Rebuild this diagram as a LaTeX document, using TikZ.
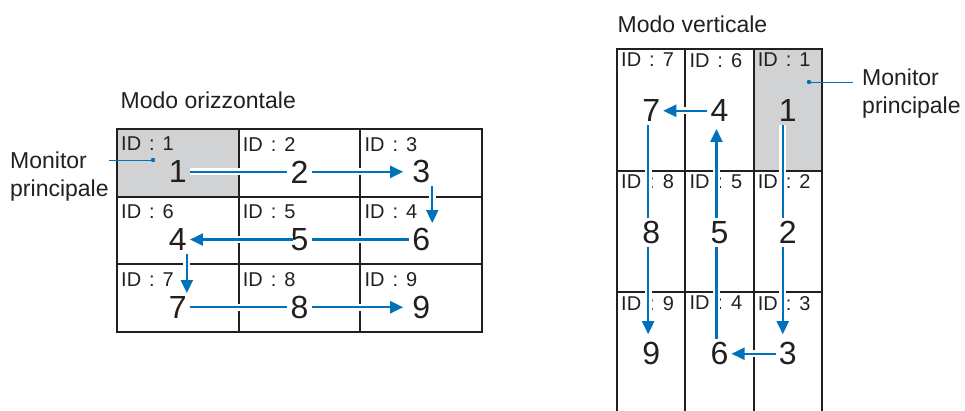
\documentclass[tikz,border=0pt]{standalone}
\usepackage{fontspec}
\setmainfont{Liberation Sans}
\usetikzlibrary{positioning,arrows.meta}
\definecolor{blu}{RGB}{0,114,188}
\definecolor{grigio}{RGB}{209,210,212}
\definecolor{nero}{RGB}{35,31,32}
\newcommand{\idsp}{\hspace{0.4em}}

\begin{document}
\begin{tikzpicture}[
x=1pt, y=-1pt,
font=\fontsize{23}{28}\selectfont,
text=nero,
schermo/.style={
    draw=nero,
    line width=2pt,
    inner sep=0pt,
    outer sep=0pt
},
schermoO/.style={
    schermo,
    minimum width=121.7pt,
    minimum height=67.7pt,
    label={[idtxt, yshift=-4pt]north west:{ID\idsp:\idsp#1}}
},
schermoV/.style={
    schermo,
    minimum width=68.3pt,
    minimum height=121.5pt,
    label={[idtxt]north west:{ID\idsp:\idsp#1}}
},
idtxt/.style={
    anchor=north west,
    inner sep=4pt,
    font=\fontsize{20}{24}\selectfont
},
cifra/.style={
    inner sep=3pt,
    font=\fontsize{32}{36}\selectfont
},
freccia/.style={
    -{Triangle[length=13pt,width=12pt]},
    draw=blu,
    line width=2.2pt,
    preaction={draw=white, line width=7pt, -}
},
guida/.style={
    draw=blu,
    line width=1pt
},
titolo/.style={
    anchor=base west,
    inner sep=0pt
},
didascalia/.style={
    anchor=north west,
    align=left,
    inner sep=0pt
}
]
\clip (0,0) rectangle (965,410);

% Modo orizzontale
\node[titolo] (titoloO) at (120.5,108) {Modo orizzontale};

\node[schermoO=1, fill=grigio, anchor=north west] (o11) at (117,129) {};
\node[schermoO=2, right=0pt of o11] (o12) {};
\node[schermoO=3, right=0pt of o12] (o13) {};
\node[schermoO=6, below=0pt of o11] (o21) {};
\node[schermoO=5, right=0pt of o21] (o22) {};
\node[schermoO=4, right=0pt of o22] (o23) {};
\node[schermoO=7, below=0pt of o21] (o31) {};
\node[schermoO=8, right=0pt of o31] (o32) {};
\node[schermoO=9, right=0pt of o32] (o33) {};

\node[cifra] (numO1) at ([yshift=-9pt]o11.center) {1};
\node[cifra] (numO2) at ([yshift=-9pt]o12.center) {2};
\node[cifra] (numO3) at ([yshift=-9pt]o13.center) {3};
\node[cifra] (numO4) at ([yshift=-9pt]o21.center) {4};
\node[cifra] (numO5) at ([yshift=-9pt]o22.center) {5};
\node[cifra] (numO6) at ([yshift=-9pt]o23.center) {6};
\node[cifra] (numO7) at ([yshift=-9pt]o31.center) {7};
\node[cifra] (numO8) at ([yshift=-9pt]o32.center) {8};
\node[cifra] (numO9) at ([yshift=-9pt]o33.center) {9};

\draw[freccia, shorten >=6pt] (numO1) -- (numO2) -- (numO3);
\draw[freccia, shorten >=2pt]
([xshift=11pt]numO3.south) -- ([xshift=11pt]numO6.north);
\draw[freccia, shorten <=-6pt] (numO6) -- (numO5) -- (numO4);
\draw[freccia]
([xshift=9pt]numO4.south) -- ([xshift=9pt]numO7.north);
\draw[freccia, shorten >=6pt] (numO7) -- (numO8) -- (numO9);

\node[didascalia] (monitorO) at (10,151.5) {Monitor\\principale};
\coordinate (puntoO) at (153,160);
\draw[guida] (monitorO.east |- puntoO) -- (puntoO);
\fill[blu] (puntoO) circle (2.2pt);

% Modo verticale
\node[titolo] (titoloV) at (617.5,32) {Modo verticale};

\node[schermoV=7, anchor=north west] (ve11) at (617,49) {};
\node[schermoV=6, right=0pt of ve11] (ve12) {};
\node[schermoV=1, fill=grigio, right=0pt of ve12] (ve13) {};
\node[schermoV=8, below=0pt of ve11] (ve21) {};
\node[schermoV=5, right=0pt of ve21] (ve22) {};
\node[schermoV=2, right=0pt of ve22] (ve23) {};
\node[schermoV=9, below=0pt of ve21] (ve31) {};
\node[schermoV=4, right=0pt of ve31] (ve32) {};
\node[schermoV=3, right=0pt of ve32] (ve33) {};

\node[cifra] (numV7) at ([yshift=-1pt]ve11.center) {7};
\node[cifra] (numV4) at ([yshift=-1pt]ve12.center) {4};
\node[cifra] (numV1) at ([yshift=-1pt]ve13.center) {1};
\node[cifra] (numV8) at ([yshift=-1pt]ve21.center) {8};
\node[cifra] (numV5) at ([yshift=-1pt]ve22.center) {5};
\node[cifra] (numV2) at ([yshift=-1pt]ve23.center) {2};
\node[cifra] (numV9) at ([yshift=-1pt]ve31.center) {9};
\node[cifra] (numV6) at ([yshift=-1pt]ve32.center) {6};
\node[cifra] (numV3) at ([yshift=-1pt]ve33.center) {3};

\draw[freccia, shorten >=5pt]
([xshift=-5pt]numV1.south) -- ([xshift=-5pt]numV2.north)
([xshift=-5pt]numV2.south) -- ([xshift=-5pt]numV3.north);
\draw[freccia] (numV3) -- (numV6);
\draw[freccia, shorten >=4pt]
([xshift=-3pt]numV6.north) -- ([xshift=-3pt]numV5.south)
([xshift=-3pt]numV5.north) -- ([xshift=-3pt]numV4.south);
\draw[freccia] (numV4) -- (numV7);
\draw[freccia, shorten >=5pt]
([xshift=-3pt]numV7.south) -- ([xshift=-3pt]numV8.north)
([xshift=-3pt]numV8.south) -- ([xshift=-3pt]numV9.north);

\node[didascalia] (monitorV) at (862,69) {Monitor\\principale};
\coordinate (puntoV) at (809,82);
\coordinate (capoV) at (853,82);
\draw[guida] (capoV) -- (puntoV);
\fill[blu] (puntoV) circle (2.2pt);

\end{tikzpicture}
\end{document}
